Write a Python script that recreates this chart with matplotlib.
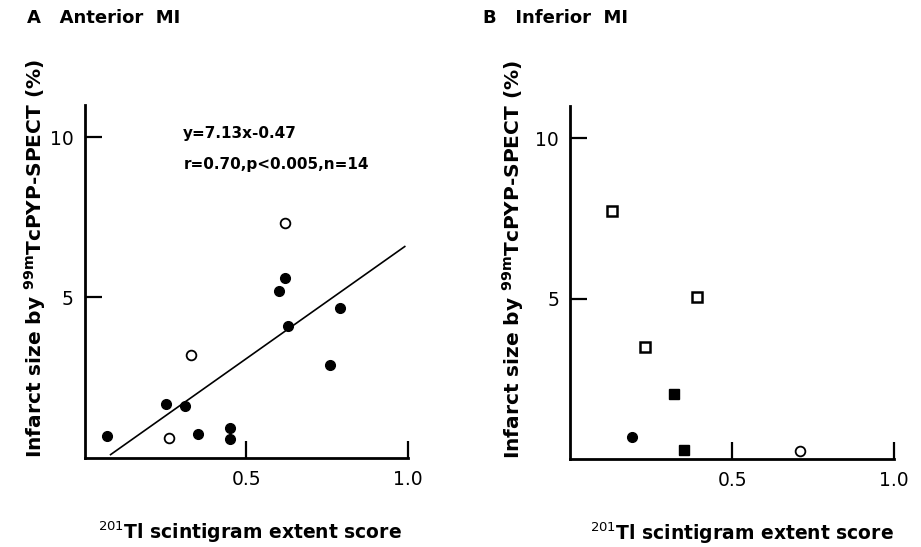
import matplotlib
matplotlib.use('Agg')
import matplotlib.pyplot as plt
import numpy as np

# Anterior MI (panel A)
ant_filled_x = [0.07, 0.25, 0.31, 0.35, 0.45, 0.45, 0.60, 0.62, 0.63, 0.76, 0.79]
ant_filled_y = [0.68, 1.68, 1.62, 0.75, 0.93, 0.59, 5.20, 5.61, 4.11, 2.88, 4.68]
ant_open_x = [0.26, 0.33, 0.62]
ant_open_y = [0.61, 3.20, 7.31]
fit_slope = 7.13
fit_intercept = -0.47
fit_x = [0.08, 0.99]

# Inferior MI (panel B)
inf_open_sq_x = [0.13, 0.23, 0.39]
inf_open_sq_y = [7.72, 3.50, 5.04]
inf_filled_sq_x = [0.32, 0.35]
inf_filled_sq_y = [2.02, 0.29]
inf_filled_x = [0.19]
inf_filled_y = [0.69]
inf_open_x = [0.71]
inf_open_y = [0.26]

x_ticks = [0.5, 1.0]
x_ticklabels = ['0.5', '1.0']
y_ticks = [5, 10]
y_ticklabels = ['5', '10']

xlabel = r'$^{201}$Tl scintigram extent score'
ylabel = r'Infarct size by $^{\mathbf{99m}}$TcPYP-SPECT (%)'

fig = plt.figure(figsize=(9.21, 5.47), dpi=100)
axA = fig.add_axes([0.092, 0.163, 0.351, 0.645])
axB = fig.add_axes([0.619, 0.161, 0.352, 0.645])

for ax in (axA, axB):
    ax.set_xlim(0, 1.0)
    ax.set_ylim(0, 11)
    ax.spines['top'].set_visible(False)
    ax.spines['right'].set_visible(False)
    ax.spines['left'].set_linewidth(2.0)
    ax.spines['bottom'].set_linewidth(2.0)
    ax.set_xticks(x_ticks)
    ax.set_xticklabels(x_ticklabels)
    ax.set_yticks(y_ticks)
    ax.set_yticklabels(y_ticklabels)
    ax.tick_params(direction='in', length=12, width=1.6, labelsize=13.5)
    ax.tick_params(axis='y', pad=8)
    ax.tick_params(axis='x', pad=9)
    ax.set_xlabel(xlabel, fontsize=13.5, fontweight='bold')
    ax.set_ylabel(ylabel, fontsize=14.5, fontweight='bold')

# panel A
fx = np.array(fit_x)
axA.plot(fx, fit_slope * fx + fit_intercept, color='black', lw=1.2)
axA.plot(ant_filled_x, ant_filled_y, 'o', color='black', ms=7, clip_on=False)
axA.plot(ant_open_x, ant_open_y, 'o', mfc='white', mec='black', mew=1.3, ms=7, clip_on=False)
axA.text(0.304, 10.12, 'y=7.13x-0.47', fontsize=11, fontweight='bold', va='center', ha='left')
axA.text(0.307, 9.16, 'r=0.70,p<0.005,n=14', fontsize=11, fontweight='bold', va='center', ha='left')

# panel B
axB.plot(inf_open_sq_x, inf_open_sq_y, 's', mfc='white', mec='black', mew=1.8, ms=6.5, clip_on=False)
axB.plot(inf_filled_sq_x, inf_filled_sq_y, 's', color='black', ms=7, clip_on=False)
axB.plot(inf_filled_x, inf_filled_y, 'o', color='black', ms=7, clip_on=False)
axB.plot(inf_open_x, inf_open_y, 'o', mfc='white', mec='black', mew=1.3, ms=7, clip_on=False)

axA.yaxis.set_label_coords(-0.115, 0.565)
axB.yaxis.set_label_coords(-0.136, 0.565)
axA.xaxis.set_label_coords(0.51, -0.174)
axB.xaxis.set_label_coords(0.53, -0.175)

fig.text(27 / 921, 1 - 18 / 547, 'A   Anterior  MI', fontsize=13, fontweight='bold', va='center', ha='left')
fig.text(483 / 921, 1 - 18 / 547, 'B   Inferior  MI', fontsize=13, fontweight='bold', va='center', ha='left')

fig.savefig('out.png', dpi=100)
